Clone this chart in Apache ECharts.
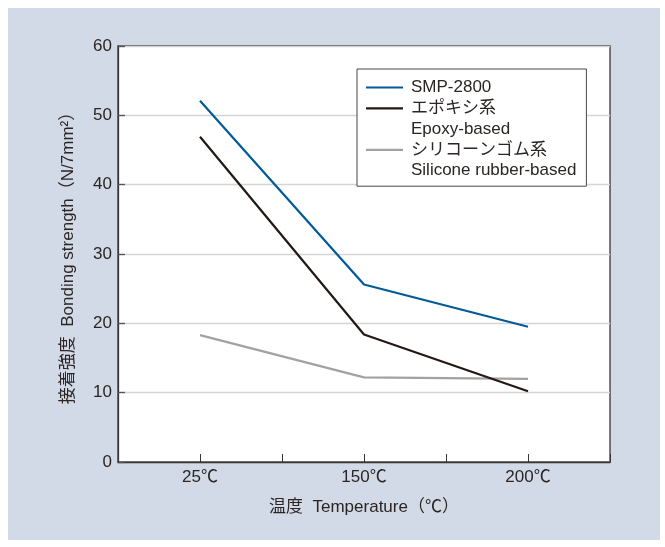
<!DOCTYPE html>
<html>
<head>
<meta charset="utf-8">
<script src="https://cdn.jsdelivr.net/npm/echarts@6/dist/echarts.min.js"></script>
<style>
  html, body { margin: 0; padding: 0; background: #ffffff; }
  #wrap { position: relative; width: 665px; height: 547px; background: #ffffff; }
  #bg { position: absolute; left: 8px; top: 8px; width: 652px; height: 532px; background: #d2dae7; }
  #chart { position: absolute; left: 0; top: 0; width: 665px; height: 547px; }
</style>
</head>
<body>
<div id="wrap"><div id="bg"></div><div id="chart"></div></div>
<script>
// ---- data ----
const temperatures = ['25℃', '150℃', '200℃'];
const smp2800 = [52.1, 25.6, 19.5];
const epoxy = [46.9, 18.4, 10.2];
const silicone = [18.3, 12.2, 12.0];
const yTicks = [0, 10, 20, 30, 40, 50, 60];
const seriesNames = ['SMP-2800', 'エポキシ系', 'シリコーンゴム系'];
const seriesSubNames = ['', 'Epoxy-based', 'Silicone rubber-based'];

// category slots: each temperature sits between blank slots
const slots = [''];
temperatures.forEach(t => { slots.push(t); slots.push(''); });
function pad(vals) {
  const out = [null];
  vals.forEach(v => { out.push(v); out.push(null); });
  return out;
}

const FONT = '"Liberation Sans", "Noto Sans CJK JP", sans-serif';
const TXT = '#2b2523';
const FS = 17;

const chart = echarts.init(document.getElementById('chart'), null, { renderer: 'canvas' });

const lineSeries = (name, vals, color, z) => ({
  name: name, type: 'line', data: pad(vals), connectNulls: true,
  symbol: 'none', z: z,
  lineStyle: { color: color, width: 2.2 },
  itemStyle: { color: color },
  animation: false
});

const option = {
  backgroundColor: 'transparent',
  animation: false,
  grid: {
    left: 118, top: 46, width: 492, height: 416,
    show: true, backgroundColor: '#ffffff', borderColor: '#3a3534', borderWidth: 1.3
  },
  legend: {
    orient: 'vertical', left: 357, top: 69,
    backgroundColor: '#ffffff', borderColor: '#4a4544', borderWidth: 1,
    padding: [10, 10, 7, 9],
    icon: 'rect',
    itemWidth: 37, itemHeight: 2.2, itemGap: 3.8,
    textStyle: { fontFamily: FONT, fontSize: FS, color: TXT, padding: [0, 0, 0, 3], lineHeight: 17 },
    data: [
      { name: seriesNames[0] },
      { name: seriesNames[1] },
      { name: seriesSubNames[1], itemStyle: { color: 'rgba(0,0,0,0)', borderWidth: 0 } },
      { name: seriesNames[2] },
      { name: seriesSubNames[2], itemStyle: { color: 'rgba(0,0,0,0)', borderWidth: 0 } }
    ]
  },
  xAxis: {
    type: 'category', data: slots, boundaryGap: false,
    axisLine: { lineStyle: { color: '#3a3534', width: 1.3 } },
    axisTick: { show: true, inside: true, length: 8, interval: 0, lineStyle: { color: '#3a3534', width: 1 } },
    axisLabel: { interval: 0, margin: 7, fontFamily: FONT, fontSize: FS, color: TXT },
    splitLine: { show: false },
    name: '温度  Temperature（℃）', nameLocation: 'middle', nameGap: 37,
    nameTextStyle: { fontFamily: FONT, fontSize: FS, color: TXT }
  },
  yAxis: {
    type: 'value', min: yTicks[0], max: yTicks[yTicks.length - 1], interval: 10,
    axisLine: { show: true, lineStyle: { color: '#3a3534', width: 1.3 } },
    axisTick: { show: true, inside: true, length: 7, lineStyle: { color: '#555', width: 1.3 } },
    axisLabel: { margin: 6, fontFamily: FONT, fontSize: FS, color: TXT },
    splitLine: { show: true, lineStyle: { color: '#d4d4d4', width: 1.3 } },
    name: '接着強度  Bonding strength（N/7mm²）', nameLocation: 'middle', nameGap: 41, nameRotate: 90,
    nameTextStyle: { fontFamily: FONT, fontSize: FS, color: TXT }
  },
  series: [
    lineSeries(seriesNames[2], silicone, '#a2a2a2', 2),
    lineSeries(seriesNames[1], epoxy, '#231815', 3),
    lineSeries(seriesNames[0], smp2800, '#005b97', 4),
    { name: seriesSubNames[1], type: 'line', data: [], symbol: 'none', lineStyle: { opacity: 0 } },
    { name: seriesSubNames[2], type: 'line', data: [], symbol: 'none', lineStyle: { opacity: 0 } }
  ]
};
chart.setOption(option);
</script>
</body>
</html>
